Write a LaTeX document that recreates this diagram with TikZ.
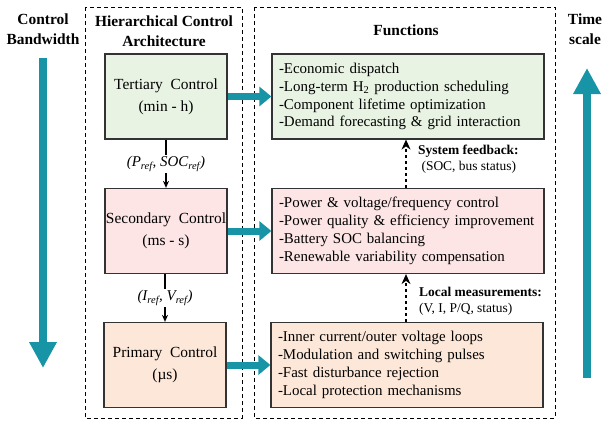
\documentclass[tikz,border=0pt]{standalone}
\usepackage{fontspec}
\setmainfont{Liberation Serif}
\usetikzlibrary{arrows.meta}
\definecolor{teal1}{HTML}{1795A6}
\definecolor{tgreen}{HTML}{E8F3E3}
\definecolor{spink}{HTML}{FCE5E4}
\definecolor{ppeach}{HTML}{FDE7D8}
\definecolor{bord}{HTML}{333333}
\begin{document}
\begin{tikzpicture}[x=1bp,y=-1bp,
  frame/.style={draw=black,dashed,dash pattern=on 4bp off 3bp,line width=1bp},
  ctrlbox/.style={draw=bord,line width=1.2bp,minimum width=122bp,minimum height=85bp,align=center,font=\rmfamily\fontsize{15.5}{22}\selectfont,inner sep=0pt},
  funcbox/.style={draw=bord,line width=1.2bp,minimum width=272bp,minimum height=85bp,align=left,font=\rmfamily\fontsize{15}{18}\selectfont,inner sep=0pt,text width=258bp},
  head/.style={font=\rmfamily\bfseries\fontsize{15.5}{20}\selectfont,align=center,inner sep=0pt},
  fbhead/.style={font=\rmfamily\fontsize{13.5}{16}\selectfont,align=left,inner sep=0pt,anchor=north west},
  tealarrow/.style={draw=teal1,line width=7bp,-{Triangle[length=12bp,width=19bp]}},
  bigarrow/.style={draw=teal1,line width=8.5bp,-{Triangle[length=26bp,width=26bp]}},
  refarrow/.style={draw=black,line width=1.6bp,-{Stealth[length=7bp,width=6bp]}},
  fbarrow/.style={draw=black,line width=1.2bp,dashed,dash pattern=on 3bp off 3bp,-{Stealth[length=10bp,width=9bp]}},
  reflabel/.style={font=\rmfamily\itshape\fontsize{15}{16}\selectfont,fill=white,inner sep=1.5bp}
]
\useasboundingbox (0,0) rectangle (603,423);
% frames
\draw[frame] (85,7) rectangle (242,418);
\draw[frame] (254,7) rectangle (555,418);
% headings
\node[head] (hbw) at (43,29) {Control\\Bandwidth};
\node[head] (hts) at (585,29) {Time\\scale};
\node[head] (harch) at (164,31) {Hierarchical Control\\Architecture};
\node[head] (hfun) at (406,30) {Functions};
% big arrows
\coordinate (bwtop) at (43,58);
\coordinate (bwbot) at (43,368);
\draw[bigarrow] (bwtop) -- (bwbot);
\coordinate (tsbot) at (587,378);
\coordinate (tstop) at (587,68);
\draw[bigarrow] (tsbot) -- (tstop);
% control boxes
\node[ctrlbox,fill=tgreen] (tc) at (166,96.5) {Tertiary\ \ Control\\(min - h)};
\node[ctrlbox,fill=spink] (sc) at (166,231) {Secondary\ \ Control\\(ms - s)};
\node[ctrlbox,fill=ppeach] (pc) at (165,365) {Primary\ \ Control\\(µs)};
% function boxes
\node[funcbox,fill=tgreen] (tf) at (408,96.5) {-Economic dispatch\\-Long-term H\textsubscript{2} production scheduling\\-Component lifetime optimization\\-Demand forecasting \& grid interaction};
\node[funcbox,fill=spink] (sf) at (408,231) {-Power \& voltage/frequency control\\-Power quality \& efficiency improvement\\-Battery SOC balancing\\-Renewable variability compensation};
\node[funcbox,fill=ppeach] (pf) at (407,365) {-Inner current/outer voltage loops\\-Modulation and switching pulses\\-Fast disturbance rejection\\-Local protection mechanisms};
% teal arrows
\draw[tealarrow] (tc.east) -- (tf.west);
\draw[tealarrow] (sc.east) -- (sf.west);
\draw[tealarrow] (pc.east) -- (pf.west);
% reference arrows
\draw[refarrow] (tc.south) -- (sc.north) node[reflabel,pos=0.5] (lp) {(P\textsubscript{ref}, SOC\textsubscript{ref})};
\draw[refarrow] (sc.south -| pc.north) -- (pc.north) node[reflabel,pos=0.5] (li) {(I\textsubscript{ref}, V\textsubscript{ref})};
% feedback arrows
\draw[fbarrow] (sf.north -| 406,0) -- (tf.south -| 406,0);
\draw[fbarrow] (pf.north -| 406,0) -- (sf.south -| 406,0);
\node[fbhead] (fb1) at (418,145) {\textbf{System feedback:}\\\ (SOC, bus status)};
\node[fbhead] (fb2) at (419,287) {\textbf{Local measurements:}\\(V, I, P/Q, status)};
\end{tikzpicture}
\end{document}
